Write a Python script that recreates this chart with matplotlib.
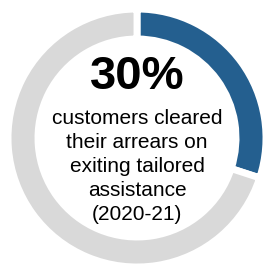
import matplotlib
matplotlib.use("Agg")
import matplotlib.pyplot as plt

labels = ["Cleared arrears", "Other"]
values = [30, 70]
colors = ["#245f8f", "#d9d9d9"]
headline = "30%"
caption_lines = ["customers cleared", "their arrears on", "exiting tailored", "assistance", "(2020-21)"]

plt.rcParams['font.family'] = ['Liberation Sans', 'DejaVu Sans']
W, H = 265, 267
fig = plt.figure(figsize=(W / 100, H / 100), dpi=100)
ax = fig.add_axes([0, 0, 1, 1])

cx, cy, r = 137, 138, 129
ax.pie(values, colors=colors, startangle=90, counterclock=False,
       center=(cx, H - cy), radius=r,
       wedgeprops=dict(width=30, edgecolor='white', linewidth=5))
ax.set_xlim(0, W)
ax.set_ylim(0, H)
ax.set_aspect('equal')
ax.axis('off')

ax.text(cx, H - 77, headline, ha='center', va='center', fontsize=34, fontweight='bold')
for i, line in enumerate(caption_lines):
    ax.text(cx, H - (118 + i * 24), line, ha='center', va='center', fontsize=15)

fig.savefig("out.png", dpi=100)
